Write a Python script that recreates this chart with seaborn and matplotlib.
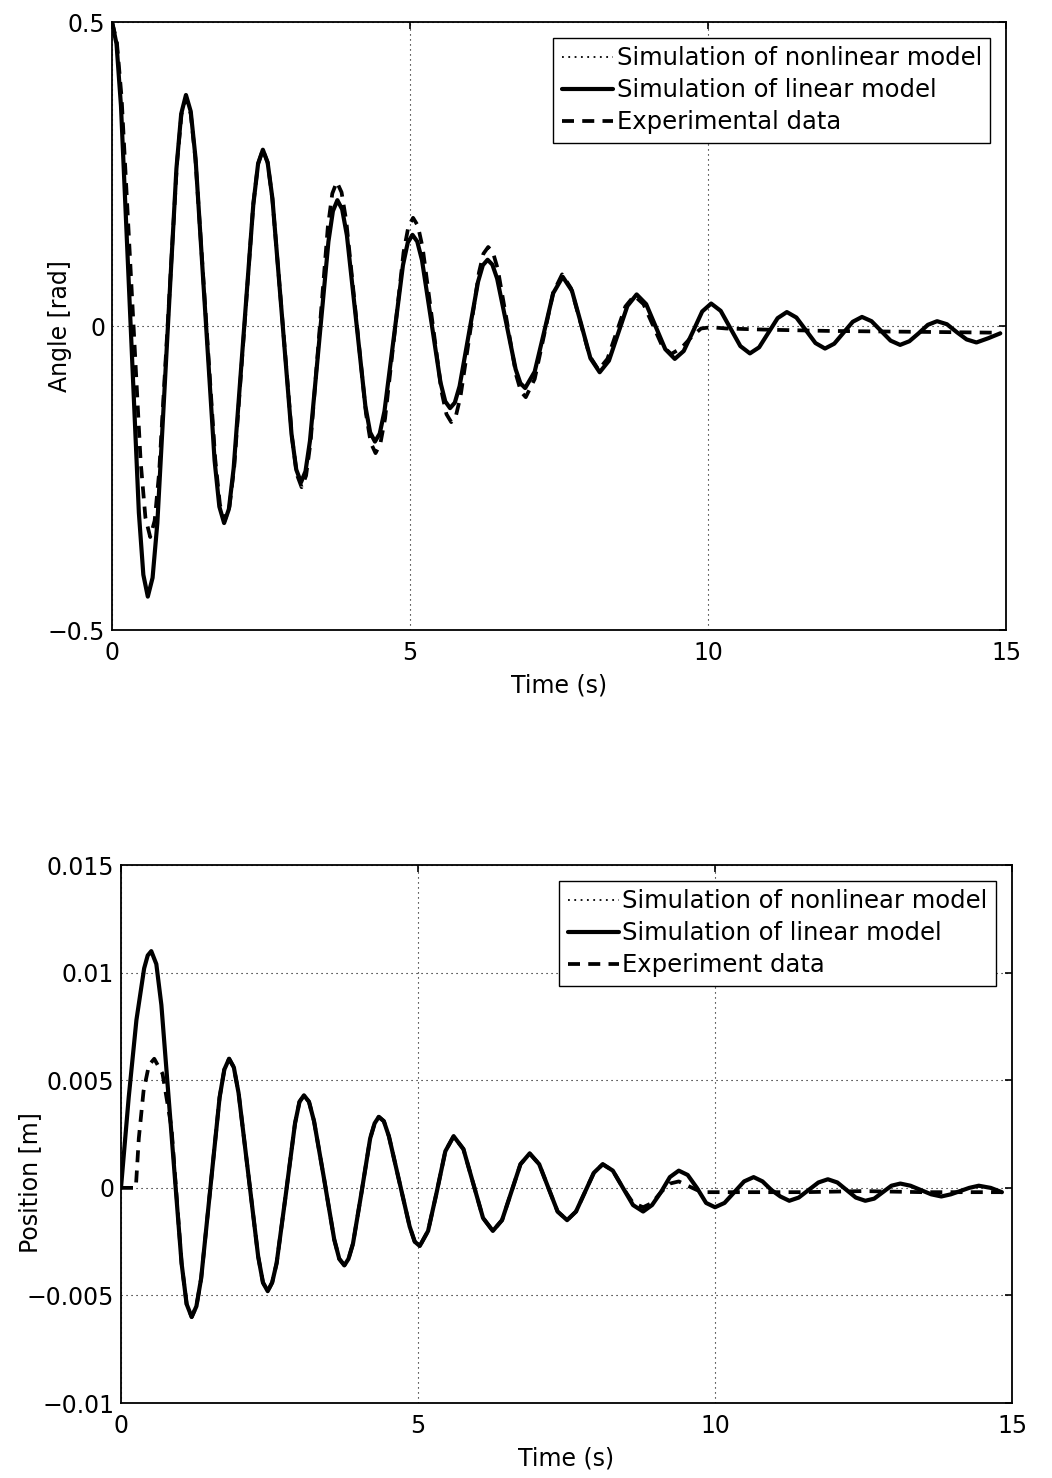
import matplotlib
matplotlib.use('Agg')
import matplotlib.pyplot as plt
import seaborn as sns

# ---- upper panel: angle response ----
ANGLE_SIM_TIME = [
    0.00, 0.075, 0.15, 0.30, 0.45, 0.525, 0.60,
    0.68, 0.76, 0.92, 1.08, 1.16, 1.24,
    1.32, 1.40, 1.56, 1.72, 1.80, 1.88,
    1.96, 2.04, 2.205, 2.37, 2.45, 2.53,
    2.61, 2.69, 2.85, 3.01, 3.09, 3.17,
    3.245, 3.32, 3.475, 3.63, 3.705, 3.78,
    3.86, 3.94, 4.095, 4.25, 4.33, 4.41,
    4.49, 4.57, 4.725, 4.88, 4.96, 5.04,
    5.12, 5.20, 5.355, 5.51, 5.59, 5.67,
    5.75, 5.83, 5.985, 6.14, 6.22, 6.30,
    6.38, 6.46, 6.615, 6.77, 6.85, 6.93,
    7.09, 7.245, 7.40, 7.56,
    7.715, 7.87, 8.025, 8.18,
    8.335, 8.49, 8.645, 8.80,
    8.96, 9.12, 9.28, 9.44,
    9.59, 9.745, 9.90, 10.05,
    10.21, 10.375, 10.54, 10.70,
    10.855, 11.01, 11.165, 11.32,
    11.48, 11.64, 11.80, 11.96,
    12.115, 12.27, 12.425, 12.58,
    12.74, 12.90, 13.06, 13.22,
    13.375, 13.53, 13.685, 13.84,
    14.005, 14.17, 14.335, 14.50,
    14.70, 14.90,
]
ANGLE_LINEAR = [
    0.500, 0.464, 0.362, 0.028, -0.307, -0.409, -0.445,
    -0.414, -0.324, -0.032, 0.259, 0.349, 0.380,
    0.353, 0.277, 0.028, -0.221, -0.297, -0.324,
    -0.301, -0.234, -0.017, 0.200, 0.267, 0.290,
    0.269, 0.210, 0.017, -0.177, -0.236, -0.257,
    -0.239, -0.189, -0.025, 0.139, 0.189, 0.207,
    0.192, 0.149, 0.009, -0.132, -0.175, -0.190,
    -0.177, -0.140, -0.020, 0.100, 0.137, 0.150,
    0.139, 0.108, 0.008, -0.093, -0.124, -0.135,
    -0.126, -0.099, -0.013, 0.073, 0.100, 0.109,
    0.101, 0.078, 0.004, -0.071, -0.094, -0.102,
    -0.075, -0.011, 0.054, 0.081,
    0.058, 0.003, -0.053, -0.076,
    -0.057, -0.012, 0.033, 0.052,
    0.036, -0.001, -0.038, -0.054,
    -0.041, -0.009, 0.024, 0.037,
    0.025, -0.004, -0.033, -0.045,
    -0.035, -0.011, 0.013, 0.023,
    0.014, -0.007, -0.028, -0.037,
    -0.029, -0.011, 0.007, 0.015,
    0.008, -0.008, -0.024, -0.031,
    -0.025, -0.012, 0.002, 0.008,
    0.003, -0.010, -0.022, -0.027,
    -0.020, -0.012,
]
# the nonlinear simulation lies under the linear one everywhere in the scan
ANGLE_NONLINEAR = [
    0.500, 0.464, 0.362, 0.028, -0.307, -0.409, -0.445,
    -0.414, -0.324, -0.032, 0.259, 0.349, 0.380,
    0.353, 0.277, 0.028, -0.221, -0.297, -0.324,
    -0.301, -0.234, -0.017, 0.200, 0.267, 0.290,
    0.269, 0.210, 0.017, -0.177, -0.236, -0.257,
    -0.239, -0.189, -0.025, 0.139, 0.189, 0.207,
    0.192, 0.149, 0.009, -0.132, -0.175, -0.190,
    -0.177, -0.140, -0.020, 0.100, 0.137, 0.150,
    0.139, 0.108, 0.008, -0.093, -0.124, -0.135,
    -0.126, -0.099, -0.013, 0.073, 0.100, 0.109,
    0.101, 0.078, 0.004, -0.071, -0.094, -0.102,
    -0.075, -0.011, 0.054, 0.081,
    0.058, 0.003, -0.053, -0.076,
    -0.057, -0.012, 0.033, 0.052,
    0.036, -0.001, -0.038, -0.054,
    -0.041, -0.009, 0.024, 0.037,
    0.025, -0.004, -0.033, -0.045,
    -0.035, -0.011, 0.013, 0.023,
    0.014, -0.007, -0.028, -0.037,
    -0.029, -0.011, 0.007, 0.015,
    0.008, -0.008, -0.024, -0.031,
    -0.025, -0.012, 0.002, 0.008,
    0.003, -0.010, -0.022, -0.027,
    -0.020, -0.012,
]
ANGLE_EXP_TIME = [
    0.00, 0.08, 0.16, 0.32, 0.48, 0.56, 0.64,
    0.715, 0.79, 0.94, 1.09, 1.165, 1.24,
    1.32, 1.40, 1.565, 1.73, 1.81, 1.89,
    1.97, 2.05, 2.21, 2.37, 2.45, 2.53,
    2.61, 2.69, 2.855, 3.02, 3.10, 3.18,
    3.255, 3.33, 3.475, 3.62, 3.695, 3.77,
    3.85, 3.93, 4.095, 4.26, 4.34, 4.42,
    4.50, 4.58, 4.735, 4.89, 4.97, 5.05,
    5.13, 5.21, 5.37, 5.53, 5.61, 5.69,
    5.77, 5.845, 6.00, 6.155, 6.23, 6.31,
    6.39, 6.47, 6.625, 6.78, 6.86, 6.94,
    7.09, 7.245, 7.40, 7.55,
    7.70, 7.855, 8.01, 8.16,
    8.31, 8.46, 8.61, 8.76,
    8.915, 9.07, 9.225, 9.38,
    9.55, 9.72, 9.88, 10.05, 10.30, 11.0, 12.0, 13.0, 14.0, 14.90,
]
ANGLE_EXP = [
    0.500, 0.468, 0.376, 0.077, -0.223, -0.315, -0.347,
    -0.320, -0.241, 0.014, 0.269, 0.348, 0.375,
    0.349, 0.273, 0.028, -0.218, -0.294, -0.320,
    -0.297, -0.231, -0.015, 0.201, 0.267, 0.290,
    0.269, 0.209, 0.013, -0.184, -0.244, -0.265,
    -0.246, -0.191, -0.014, 0.163, 0.218, 0.237,
    0.220, 0.172, 0.014, -0.144, -0.192, -0.209,
    -0.194, -0.152, -0.016, 0.121, 0.163, 0.178,
    0.165, 0.129, 0.010, -0.109, -0.145, -0.158,
    -0.147, -0.116, -0.014, 0.088, 0.119, 0.130,
    0.121, 0.094, 0.007, -0.081, -0.108, -0.117,
    -0.087, -0.016, 0.055, 0.085,
    0.062, 0.007, -0.049, -0.072,
    -0.054, -0.011, 0.032, 0.050,
    0.036, 0.002, -0.032, -0.046,
    -0.036, -0.018, -0.004, -0.002, -0.004, -0.006, -0.008, -0.009, -0.010, -0.011,
]
ANGLE_TICKS = [-0.5, 0, 0.5]
ANGLE_TICK_LABELS = ['\u22120.5', '0', '0.5']
ANGLE_LEGEND = ['Simulation of nonlinear model', 'Simulation of linear model', 'Experimental data']

# ---- lower panel: cart position ----
POS_SIM_TIME = [
    0.00, 0.13, 0.26, 0.39, 0.45, 0.51,
    0.595, 0.68, 0.85, 1.02, 1.105, 1.19,
    1.27, 1.35, 1.505, 1.66, 1.74, 1.82,
    1.90, 1.98, 2.145, 2.31, 2.39, 2.47,
    2.545, 2.62, 2.775, 2.93, 3.005, 3.08,
    3.165, 3.25, 3.42, 3.59, 3.675, 3.76,
    3.83, 3.905, 4.05, 4.195, 4.27, 4.34,
    4.425, 4.51, 4.685, 4.86, 4.945, 5.03,
    5.17, 5.315, 5.46, 5.60,
    5.765, 5.93, 6.095, 6.26,
    6.415, 6.57, 6.725, 6.88,
    7.04, 7.195, 7.35, 7.51,
    7.66, 7.81, 7.96, 8.11,
    8.28, 8.45, 8.62, 8.79,
    8.94, 9.09, 9.24, 9.39,
    9.54, 9.695, 9.85, 10.00,
    10.16, 10.325, 10.49, 10.65,
    10.80, 10.95, 11.10, 11.25,
    11.41, 11.575, 11.74, 11.90,
    12.06, 12.215, 12.37, 12.53,
    12.68, 12.825, 12.97, 13.12,
    13.29, 13.465, 13.64, 13.81,
    13.97, 14.125, 14.28, 14.44,
    14.64, 14.83,
]
POS_LINEAR = [
    0.0, 0.0042, 0.0078, 0.0102, 0.0108, 0.0110,
    0.0104, 0.0085, 0.0025, -0.0035, -0.0054, -0.0060,
    -0.0055, -0.0042, 0.0000, 0.0042, 0.0055, 0.0060,
    0.0056, 0.0044, 0.0006, -0.0032, -0.0044, -0.0048,
    -0.0044, -0.0035, -0.0003, 0.0030, 0.0040, 0.0043,
    0.0040, 0.0031, 0.0004, -0.0024, -0.0033, -0.0036,
    -0.0033, -0.0026, -0.0002, 0.0023, 0.0030, 0.0033,
    0.0031, 0.0024, 0.0003, -0.0018, -0.0025, -0.0027,
    -0.0020, -0.0002, 0.0017, 0.0024,
    0.0018, 0.0002, -0.0014, -0.0020,
    -0.0015, -0.0002, 0.0011, 0.0016,
    0.0011, 0.0000, -0.0011, -0.0015,
    -0.0011, -0.0002, 0.0007, 0.0011,
    0.0008, 0.0000, -0.0008, -0.0011,
    -0.0008, -0.0002, 0.0005, 0.0008,
    0.0006, 0.0000, -0.0007, -0.0009,
    -0.0007, -0.0002, 0.0003, 0.0005,
    0.0003, -0.0001, -0.0004, -0.0006,
    -0.00045, -0.0001, 0.00025, 0.0004,
    0.00025, -0.0001, -0.00045, -0.0006,
    -0.0005, -0.0002, 0.0001, 0.0002,
    0.0001, -0.0001, -0.0003, -0.0004,
    -0.0003, -0.00015, 0.0000, 0.0001,
    0.0000, -0.0002,
]
POS_NONLINEAR = [
    0.0, 0.0042, 0.0078, 0.0102, 0.0108, 0.0110,
    0.0104, 0.0085, 0.0025, -0.0035, -0.0054, -0.0060,
    -0.0055, -0.0042, 0.0000, 0.0042, 0.0055, 0.0060,
    0.0056, 0.0044, 0.0006, -0.0032, -0.0044, -0.0048,
    -0.0044, -0.0035, -0.0003, 0.0030, 0.0040, 0.0043,
    0.0040, 0.0031, 0.0004, -0.0024, -0.0033, -0.0036,
    -0.0033, -0.0026, -0.0002, 0.0023, 0.0030, 0.0033,
    0.0031, 0.0024, 0.0003, -0.0018, -0.0025, -0.0027,
    -0.0020, -0.0002, 0.0017, 0.0024,
    0.0018, 0.0002, -0.0014, -0.0020,
    -0.0015, -0.0002, 0.0011, 0.0016,
    0.0011, 0.0000, -0.0011, -0.0015,
    -0.0011, -0.0002, 0.0007, 0.0011,
    0.0008, 0.0000, -0.0008, -0.0011,
    -0.0008, -0.0002, 0.0005, 0.0008,
    0.0006, 0.0000, -0.0007, -0.0009,
    -0.0007, -0.0002, 0.0003, 0.0005,
    0.0003, -0.0001, -0.0004, -0.0006,
    -0.00045, -0.0001, 0.00025, 0.0004,
    0.00025, -0.0001, -0.00045, -0.0006,
    -0.0005, -0.0002, 0.0001, 0.0002,
    0.0001, -0.0001, -0.0003, -0.0004,
    -0.0003, -0.00015, 0.0000, 0.0001,
    0.0000, -0.0002,
]
POS_EXP_TIME = [
    0.00, 0.25, 0.30, 0.38, 0.47, 0.56, 0.70, 0.85,
    1.02, 1.105, 1.19,
    1.27, 1.35, 1.505, 1.66, 1.74, 1.82,
    1.90, 1.98, 2.145, 2.31, 2.39, 2.47,
    2.545, 2.62, 2.775, 2.93, 3.005, 3.08,
    3.165, 3.25, 3.42, 3.59, 3.675, 3.76,
    3.83, 3.905, 4.05, 4.195, 4.27, 4.34,
    4.425, 4.51, 4.685, 4.86, 4.945, 5.03,
    5.17, 5.315, 5.46, 5.60,
    5.765, 5.93, 6.095, 6.26,
    6.415, 6.57, 6.725, 6.88,
    7.04, 7.195, 7.35, 7.51,
    7.66, 7.81, 7.96, 8.11,
    8.28, 8.45, 8.62, 8.79,
    8.94, 9.09, 9.24, 9.39,
    9.54, 9.695, 9.85, 10.5, 11.5, 12.5, 13.5, 14.5, 14.83,
]
POS_EXP = [
    0.0, 0.0, 0.0023, 0.0045, 0.0057, 0.0060, 0.0053, 0.0028,
    -0.0035, -0.0054, -0.0060,
    -0.0055, -0.0042, 0.0000, 0.0042, 0.0055, 0.0060,
    0.0056, 0.0044, 0.0006, -0.0032, -0.0044, -0.0048,
    -0.0044, -0.0035, -0.0003, 0.0030, 0.0040, 0.0043,
    0.0040, 0.0031, 0.0004, -0.0024, -0.0033, -0.0036,
    -0.0033, -0.0026, -0.0002, 0.0023, 0.0030, 0.0033,
    0.0031, 0.0024, 0.0003, -0.0018, -0.0025, -0.0027,
    -0.0020, -0.0002, 0.0017, 0.0024,
    0.0018, 0.0002, -0.0014, -0.0020,
    -0.0015, -0.0002, 0.0011, 0.0016,
    0.0011, 0.0000, -0.0011, -0.0015,
    -0.0011, -0.0002, 0.0007, 0.0011,
    0.0008, 0.0000, -0.0007, -0.0009,
    -0.0007, -0.0002, 0.0002, 0.0003,
    0.0001, -0.0001, -0.0002, -0.0002, -0.0002, -0.00015, -0.0002, -0.0002, -0.0002,
]
POS_TICKS = [-0.01, -0.005, 0, 0.005, 0.01, 0.015]
POS_TICK_LABELS = ['\u22120.01', '\u22120.005', '0', '0.005', '0.01', '0.015']
POS_LEGEND = ['Simulation of nonlinear model', 'Simulation of linear model', 'Experiment data']

TIME_TICKS = [0, 5, 10, 15]
TIME_LABEL = 'Time (s)'

TEXT_SIZE = 17


def draw_panel(ax, t_sim, nonlin, lin, t_exp, exp, legend_labels,
               ylim, yticks, yticklabels, ylabel, ylabel_xy):
    sns.lineplot(x=t_sim, y=nonlin, ax=ax, color='black', linewidth=1.3,
                 linestyle=(0, (1, 2.5)), label=legend_labels[0],
                 estimator=None, sort=False)
    sns.lineplot(x=t_sim, y=lin, ax=ax, color='black', linewidth=3.0,
                 linestyle='-', label=legend_labels[1],
                 estimator=None, sort=False, solid_joinstyle='round')
    sns.lineplot(x=t_exp, y=exp, ax=ax, color='black', linewidth=2.7,
                 linestyle=(0, (3.2, 2.2)), label=legend_labels[2],
                 estimator=None, sort=False, dash_joinstyle='round')

    ax.set_xlim(0, 15)
    ax.set_ylim(*ylim)
    ax.set_xticks(TIME_TICKS)
    ax.set_xticklabels([str(t) for t in TIME_TICKS])
    ax.set_yticks(yticks)
    ax.set_yticklabels(yticklabels)
    ax.tick_params(direction='in', length=5, width=1.2, top=True, right=True,
                   labelsize=TEXT_SIZE, colors='black')
    ax.tick_params(axis='x', pad=8)
    ax.tick_params(axis='y', pad=5)
    ax.grid(True, color='black', linewidth=0.8, linestyle=(0, (1, 3.5)))
    for side in ax.spines.values():
        side.set_visible(True)
        side.set_color('black')
        side.set_linewidth(1.3)

    ax.set_xlabel(TIME_LABEL, fontsize=TEXT_SIZE, labelpad=6, color='black')
    ax.set_ylabel(ylabel, fontsize=TEXT_SIZE, color='black')
    ax.yaxis.set_label_coords(*ylabel_xy)

    leg = ax.legend(loc='upper right', fontsize=17.5, frameon=True, fancybox=False,
                    framealpha=1, edgecolor='black', borderpad=0.35,
                    labelspacing=0.33, handlelength=2.1, handletextpad=0.15,
                    borderaxespad=0.65)
    leg.get_frame().set_linewidth(1.0)
    for txt in leg.get_texts():
        txt.set_color('black')


def main():
    sns.set_theme(style='white')
    plt.rcParams['font.family'] = ['DejaVu Sans']
    plt.rcParams['axes.unicode_minus'] = True
    plt.rcParams['text.color'] = 'black'
    plt.rcParams['axes.labelcolor'] = 'black'

    fig = plt.figure(figsize=(10.52, 14.78), dpi=100)
    fig.patch.set_facecolor('white')
    ax_top = fig.add_axes([0.1065, 0.5737, 0.850, 0.4114])
    ax_bot = fig.add_axes([0.115, 0.0507, 0.847, 0.364])

    draw_panel(ax_top, ANGLE_SIM_TIME, ANGLE_NONLINEAR, ANGLE_LINEAR,
               ANGLE_EXP_TIME, ANGLE_EXP, ANGLE_LEGEND,
               (-0.5, 0.5), ANGLE_TICKS, ANGLE_TICK_LABELS,
               'Angle [rad]', (-0.045, 0.5))
    draw_panel(ax_bot, POS_SIM_TIME, POS_NONLINEAR, POS_LINEAR,
               POS_EXP_TIME, POS_EXP, POS_LEGEND,
               (-0.01, 0.015), POS_TICKS, POS_TICK_LABELS,
               'Position [m]', (-0.089, 0.41))

    fig.savefig('out.png', dpi=100)


if __name__ == '__main__':
    main()
